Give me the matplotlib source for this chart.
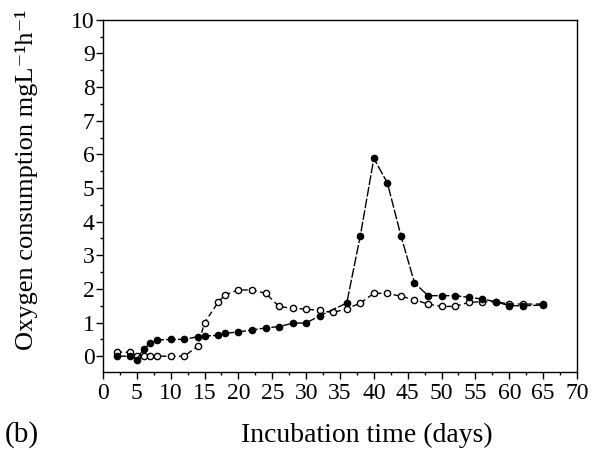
import matplotlib
matplotlib.use('Agg')
import matplotlib.pyplot as plt
from matplotlib.ticker import MultipleLocator

# filled circles
days_filled = [2, 4, 5, 6, 7, 8, 10, 12, 14, 15, 17, 18, 20, 22, 24, 26, 28, 30, 32,
               36, 38, 40, 42, 44, 46, 48, 50, 52, 54, 56, 58, 60, 62, 65]
oxy_filled = [0.0, 0.0, -0.1, 0.22, 0.38, 0.48, 0.5, 0.5, 0.58, 0.6, 0.62, 0.68, 0.72,
              0.78, 0.84, 0.88, 0.98, 0.99, 1.2,
              1.58, 3.58, 5.88, 5.15, 3.58, 2.18, 1.8, 1.8, 1.8, 1.75, 1.7, 1.62, 1.5, 1.5, 1.52]

# open circles
days_open = [2, 4, 5, 6, 7, 8, 10, 12, 14, 15, 17, 18, 20, 22, 24, 26, 28, 30, 32, 34,
             36, 38, 40, 42, 44, 46, 48, 50, 52, 54, 56, 58, 60, 62, 65]
oxy_open = [0.12, 0.12, 0.02, 0.0, 0.0, 0.0, 0.0, 0.0, 0.3, 1.0, 1.6, 1.82, 1.97, 1.97,
            1.87, 1.48, 1.42, 1.4, 1.36, 1.3,
            1.41, 1.58, 1.87, 1.87, 1.78, 1.68, 1.55, 1.48, 1.48, 1.6, 1.62, 1.62, 1.55, 1.55, 1.55]

plt.rcParams['font.family'] = ['Liberation Serif', 'DejaVu Serif']

fig = plt.figure(figsize=(5.97, 4.5), dpi=100)
ax = fig.add_axes([0.1725, 0.1733, 0.794, 0.7827])

ax.plot(days_filled, oxy_filled, color='black', lw=1.0, dashes=(7, 1.5),
        marker='o', ms=4.5, mfc='black', mec='black', zorder=3)
ax.plot(days_open, oxy_open, color='black', lw=1.0, dashes=(4, 2.5),
        marker='o', ms=4.5, mfc='white', mec='black', mew=1.0, zorder=2)

ax.set_xlim(0, 70)
ax.set_ylim(-0.47, 10)
ax.xaxis.set_major_locator(MultipleLocator(5))
ax.xaxis.set_minor_locator(MultipleLocator(2.5))
ax.yaxis.set_major_locator(MultipleLocator(1))
ax.yaxis.set_minor_locator(MultipleLocator(0.5))
ax.tick_params(which='major', direction='out', length=5, width=1.0, labelsize=17)
ax.tick_params(axis='y', which='major', pad=1)
ax.tick_params(axis='x', which='major', pad=3)
ax.tick_params(which='minor', direction='out', length=2.5, width=1.0)
for s in ax.spines.values():
    s.set_linewidth(1.0)

fig.text(367/597, 1 - 435/450, 'Incubation time (days)', ha='center', va='center', fontsize=20)
fig.text(27/597, 1 - 180/450, 'Oxygen consumption mgL\u207b\u00b9h\u207b\u00b9',
         rotation=90, ha='center', va='center', fontsize=19)
fig.text(22/597, 1 - 435/450, '(b)', ha='center', va='center', fontsize=21)

fig.savefig('out.png', dpi=100)
